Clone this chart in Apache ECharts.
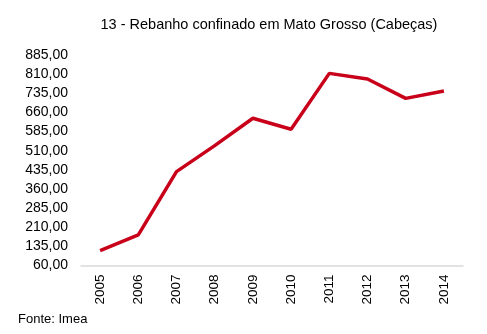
<!DOCTYPE html>
<html>
<head>
<meta charset="utf-8">
<script src="https://cdn.jsdelivr.net/npm/echarts@6/dist/echarts.min.js"></script>
<style>html,body{margin:0;padding:0;background:#fff}#c{width:487px;height:334px}</style>
</head>
<body>
<div id="c"></div>
<script>
const categories = ['2005','2006','2007','2008','2009','2010','2011','2012','2013','2014'];
const values = [118, 180, 428, 530, 637, 594, 813, 791, 715, 744];
const yMin = 60, yMax = 885, yStep = 75;
const titleText = '13 - Rebanho confinado em Mato Grosso (Cabeças)';
const sourceText = 'Fonte: Imea';

const chart = echarts.init(document.getElementById('c'));
chart.setOption({
  animation: false,
  backgroundColor: '#fff',
  textStyle: { fontFamily: 'Liberation Sans, Arial, sans-serif' },
  title: [{
    text: titleText, left: 264, top: 12, textAlign: 'center',
    textStyle: { fontSize: 14.5, fontWeight: 'normal', color: '#000', fontFamily: 'Liberation Sans' }
  }, {
    text: sourceText, left: 13, top: 308,
    textStyle: { fontSize: 13, fontWeight: 'normal', color: '#000', fontFamily: 'Liberation Sans' }
  }],
  grid: { left: 81, right: 24, top: 55, bottom: 68.5, containLabel: false },
  xAxis: {
    type: 'category', data: categories, boundaryGap: true,
    axisLine: { lineStyle: { color: '#d9d9d9', width: 1.5 } },
    axisTick: { show: false },
    axisLabel: { rotate: 90, color: '#000', fontSize: 13.5, margin: 9, fontFamily: 'Liberation Sans' }
  },
  yAxis: {
    type: 'value', min: yMin, max: yMax, interval: yStep,
    axisLine: { show: false }, axisTick: { show: false }, splitLine: { show: false },
    axisLabel: { color: '#000', fontSize: 14, margin: 13, fontFamily: 'Liberation Sans',
      formatter: v => v.toFixed(2).replace('.', ',') }
  },
  series: [{
    type: 'line', data: values, symbol: 'none',
    lineStyle: { color: '#c8001a', width: 3.5 }
  }]
});
</script>
</body>
</html>
